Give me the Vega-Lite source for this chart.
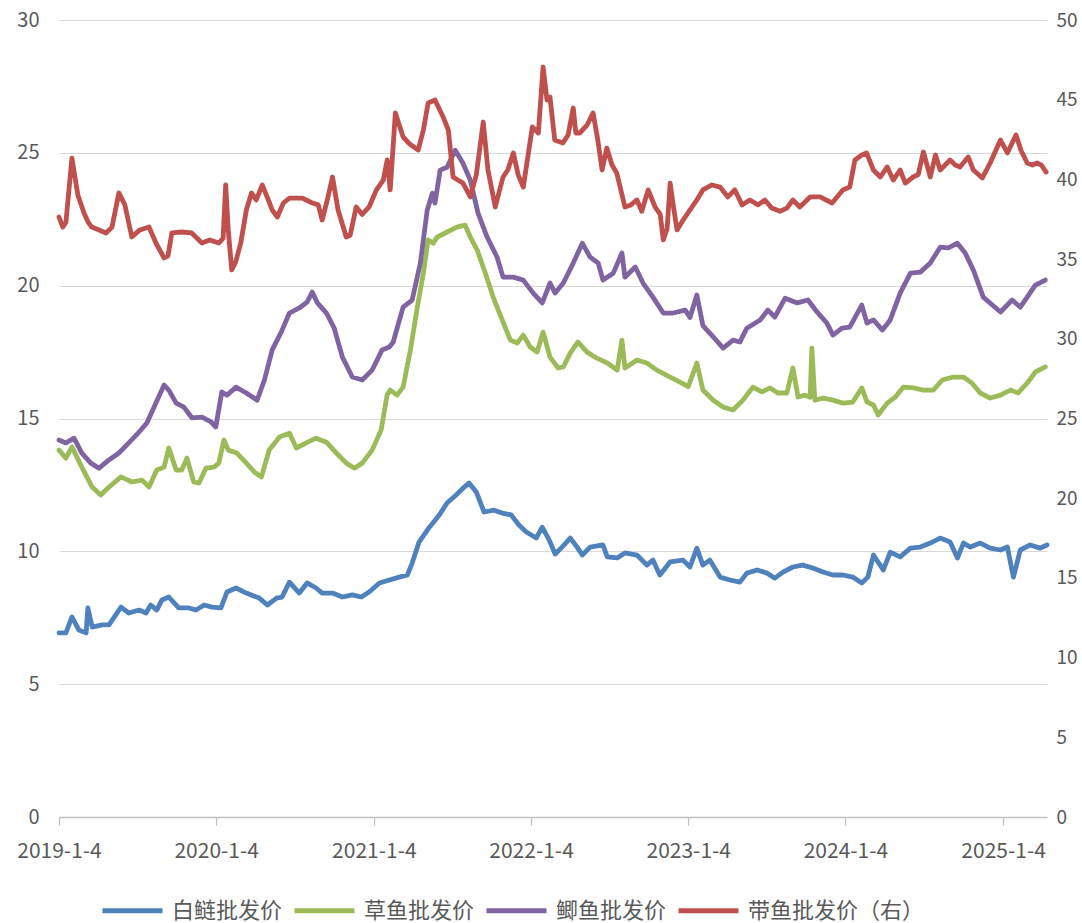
{
  "$schema": "https://vega.github.io/schema/vega-lite/v6.json",
  "width": 988,
  "height": 797,
  "autosize": {"type": "none"},
  "padding": {"left": 59, "top": 20, "right": 35, "bottom": 106},
  "background": "white",
  "config": {
    "view": {"stroke": null},
    "font": "Noto Sans CJK SC",
    "axis": {"labelFont": "Noto Sans CJK SC", "labelFontSize": 20, "labelColor": "#595959", "title": null, "gridColor": "#D9D9D9", "gridWidth": 1.2},
    "line": {"strokeWidth": 4.8, "strokeJoin": "round", "strokeCap": "round"}
  },
  "datasets": {
    "blue": [
      {"d":"2019-01-04","v":6.93},{"d":"2019-01-20","v":6.93},{"d":"2019-02-03","v":7.53},{"d":"2019-02-19","v":7.04},{"d":"2019-03-08","v":6.93},{"d":"2019-03-12","v":7.87},{"d":"2019-03-22","v":7.15},{"d":"2019-04-14","v":7.23},{"d":"2019-04-30","v":7.23},{"d":"2019-05-28","v":7.90},{"d":"2019-06-15","v":7.68},{"d":"2019-07-09","v":7.79},{"d":"2019-07-25","v":7.68},{"d":"2019-08-05","v":7.98},{"d":"2019-08-19","v":7.79},{"d":"2019-08-31","v":8.17},{"d":"2019-09-16","v":8.28},{"d":"2019-10-09","v":7.87},{"d":"2019-11-02","v":7.87},{"d":"2019-11-18","v":7.79},{"d":"2019-12-07","v":7.98},{"d":"2019-12-25","v":7.90},
      {"d":"2020-01-15","v":7.87},{"d":"2020-01-29","v":8.47},{"d":"2020-02-19","v":8.62},{"d":"2020-03-14","v":8.43},{"d":"2020-04-13","v":8.24},{"d":"2020-05-02","v":7.98},{"d":"2020-05-23","v":8.24},{"d":"2020-06-05","v":8.28},{"d":"2020-06-22","v":8.84},{"d":"2020-07-15","v":8.43},{"d":"2020-08-02","v":8.81},{"d":"2020-08-23","v":8.62},{"d":"2020-09-06","v":8.43},{"d":"2020-09-30","v":8.43},{"d":"2020-10-23","v":8.28},{"d":"2020-11-15","v":8.36},{"d":"2020-12-06","v":8.28},{"d":"2020-12-24","v":8.47},
      {"d":"2021-01-17","v":8.81},{"d":"2021-02-09","v":8.92},{"d":"2021-03-04","v":9.03},{"d":"2021-03-23","v":9.11},{"d":"2021-04-03","v":9.56},{"d":"2021-04-19","v":10.35},{"d":"2021-05-13","v":10.91},{"d":"2021-06-05","v":11.37},{"d":"2021-06-23","v":11.82},{"d":"2021-07-14","v":12.12},{"d":"2021-08-02","v":12.42},{"d":"2021-08-13","v":12.57},{"d":"2021-08-30","v":12.23},{"d":"2021-09-17","v":11.48},{"d":"2021-10-10","v":11.55},{"d":"2021-10-29","v":11.44},{"d":"2021-11-19","v":11.37},{"d":"2021-12-07","v":10.99},{"d":"2021-12-24","v":10.73},
      {"d":"2022-01-16","v":10.50},{"d":"2022-01-30","v":10.91},{"d":"2022-02-15","v":10.43},{"d":"2022-03-01","v":9.90},{"d":"2022-03-17","v":10.16},{"d":"2022-04-05","v":10.50},{"d":"2022-04-21","v":10.16},{"d":"2022-05-03","v":9.86},{"d":"2022-05-21","v":10.16},{"d":"2022-06-20","v":10.24},{"d":"2022-06-30","v":9.79},{"d":"2022-07-23","v":9.75},{"d":"2022-08-10","v":9.94},{"d":"2022-09-07","v":9.86},{"d":"2022-09-30","v":9.48},{"d":"2022-10-14","v":9.67},{"d":"2022-10-30","v":9.11},{"d":"2022-11-23","v":9.60},{"d":"2022-12-23","v":9.67},
      {"d":"2023-01-08","v":9.41},{"d":"2023-01-24","v":10.12},{"d":"2023-02-07","v":9.48},{"d":"2023-02-23","v":9.67},{"d":"2023-03-19","v":9.03},{"d":"2023-04-11","v":8.92},{"d":"2023-05-04","v":8.84},{"d":"2023-05-20","v":9.18},{"d":"2023-06-13","v":9.30},{"d":"2023-07-06","v":9.18},{"d":"2023-07-24","v":8.99},{"d":"2023-08-12","v":9.22},{"d":"2023-09-04","v":9.41},{"d":"2023-09-27","v":9.48},{"d":"2023-10-20","v":9.37},{"d":"2023-11-13","v":9.22},{"d":"2023-12-06","v":9.11},{"d":"2023-12-29","v":9.11},
      {"d":"2024-01-21","v":9.03},{"d":"2024-02-11","v":8.81},{"d":"2024-02-25","v":9.03},{"d":"2024-03-09","v":9.86},{"d":"2024-04-01","v":9.30},{"d":"2024-04-17","v":9.97},{"d":"2024-05-10","v":9.79},{"d":"2024-06-03","v":10.12},{"d":"2024-06-26","v":10.16},{"d":"2024-07-19","v":10.31},{"d":"2024-08-11","v":10.50},{"d":"2024-09-03","v":10.35},{"d":"2024-09-20","v":9.75},{"d":"2024-10-04","v":10.31},{"d":"2024-10-20","v":10.16},{"d":"2024-11-12","v":10.31},{"d":"2024-12-05","v":10.12},{"d":"2024-12-29","v":10.05},
      {"d":"2025-01-14","v":10.16},{"d":"2025-01-28","v":9.03},{"d":"2025-02-13","v":10.05},{"d":"2025-03-08","v":10.24},{"d":"2025-03-31","v":10.12},{"d":"2025-04-16","v":10.24}
    ],
    "green": [
      {"d":"2019-01-04","v":13.81},{"d":"2019-01-20","v":13.51},{"d":"2019-02-03","v":13.93},{"d":"2019-02-26","v":13.17},{"d":"2019-03-22","v":12.42},{"d":"2019-04-11","v":12.12},{"d":"2019-04-30","v":12.42},{"d":"2019-05-28","v":12.80},{"d":"2019-06-22","v":12.61},{"d":"2019-07-16","v":12.68},{"d":"2019-08-01","v":12.42},{"d":"2019-08-19","v":13.06},{"d":"2019-09-05","v":13.17},{"d":"2019-09-16","v":13.89},{"d":"2019-10-03","v":13.06},{"d":"2019-10-16","v":13.06},{"d":"2019-10-28","v":13.51},{"d":"2019-11-13","v":12.61},{"d":"2019-11-25","v":12.57},{"d":"2019-12-11","v":13.13},{"d":"2019-12-30","v":13.17},
      {"d":"2020-01-10","v":13.32},{"d":"2020-01-22","v":14.19},{"d":"2020-02-01","v":13.81},{"d":"2020-02-21","v":13.70},{"d":"2020-03-14","v":13.32},{"d":"2020-04-02","v":12.98},{"d":"2020-04-18","v":12.80},{"d":"2020-05-06","v":13.81},{"d":"2020-05-30","v":14.30},{"d":"2020-06-22","v":14.45},{"d":"2020-07-08","v":13.89},{"d":"2020-07-31","v":14.08},{"d":"2020-08-23","v":14.26},{"d":"2020-09-16","v":14.11},{"d":"2020-10-09","v":13.70},{"d":"2020-11-01","v":13.32},{"d":"2020-11-20","v":13.13},{"d":"2020-12-08","v":13.32},{"d":"2020-12-31","v":13.81},
      {"d":"2021-01-21","v":14.57},{"d":"2021-02-04","v":15.90},{"d":"2021-02-11","v":16.07},{"d":"2021-02-27","v":15.88},{"d":"2021-03-13","v":16.18},{"d":"2021-03-30","v":17.58},{"d":"2021-04-15","v":19.19},{"d":"2021-04-29","v":20.47},{"d":"2021-05-10","v":21.72},{"d":"2021-05-22","v":21.60},{"d":"2021-05-31","v":21.83},{"d":"2021-06-23","v":22.02},{"d":"2021-07-17","v":22.21},{"d":"2021-08-04","v":22.28},{"d":"2021-08-16","v":21.83},{"d":"2021-09-01","v":21.34},{"d":"2021-09-20","v":20.47},{"d":"2021-10-08","v":19.57},{"d":"2021-10-29","v":18.71},{"d":"2021-11-17","v":17.95},{"d":"2021-12-03","v":17.84},{"d":"2021-12-17","v":18.14},
      {"d":"2022-01-02","v":17.69},{"d":"2022-01-18","v":17.50},{"d":"2022-02-01","v":18.25},{"d":"2022-02-17","v":17.31},{"d":"2022-03-08","v":16.90},{"d":"2022-03-20","v":16.94},{"d":"2022-04-05","v":17.46},{"d":"2022-04-23","v":17.88},{"d":"2022-05-14","v":17.50},{"d":"2022-06-06","v":17.27},{"d":"2022-06-30","v":17.09},{"d":"2022-07-23","v":16.82},{"d":"2022-08-03","v":17.95},{"d":"2022-08-10","v":16.90},{"d":"2022-09-07","v":17.20},{"d":"2022-09-30","v":17.09},{"d":"2022-10-23","v":16.82},{"d":"2022-11-23","v":16.56},{"d":"2022-12-16","v":16.37},
      {"d":"2023-01-04","v":16.20},{"d":"2023-01-24","v":17.09},{"d":"2023-02-07","v":16.07},{"d":"2023-03-03","v":15.69},{"d":"2023-03-26","v":15.43},{"d":"2023-04-18","v":15.32},{"d":"2023-05-11","v":15.69},{"d":"2023-06-03","v":16.18},{"d":"2023-06-24","v":16.00},{"d":"2023-07-13","v":16.15},{"d":"2023-07-31","v":15.96},{"d":"2023-08-21","v":15.96},{"d":"2023-09-04","v":16.90},{"d":"2023-09-16","v":15.81},{"d":"2023-10-02","v":15.88},{"d":"2023-10-14","v":15.80},{"d":"2023-10-18","v":17.65},{"d":"2023-10-25","v":15.69},{"d":"2023-11-13","v":15.77},{"d":"2023-12-06","v":15.69},{"d":"2023-12-29","v":15.58},
      {"d":"2024-01-21","v":15.62},{"d":"2024-02-11","v":16.15},{"d":"2024-02-23","v":15.62},{"d":"2024-03-09","v":15.51},{"d":"2024-03-20","v":15.13},{"d":"2024-04-10","v":15.58},{"d":"2024-04-29","v":15.81},{"d":"2024-05-17","v":16.18},{"d":"2024-06-10","v":16.15},{"d":"2024-07-03","v":16.07},{"d":"2024-07-26","v":16.07},{"d":"2024-08-16","v":16.45},{"d":"2024-09-10","v":16.56},{"d":"2024-10-04","v":16.56},{"d":"2024-10-24","v":16.33},{"d":"2024-11-12","v":15.96},{"d":"2024-12-05","v":15.77},{"d":"2024-12-29","v":15.88},
      {"d":"2025-01-21","v":16.07},{"d":"2025-02-08","v":15.96},{"d":"2025-03-01","v":16.33},{"d":"2025-03-20","v":16.75},{"d":"2025-04-12","v":16.94}
    ],
    "purple": [
      {"d":"2019-01-04","v":14.19},{"d":"2019-01-20","v":14.08},{"d":"2019-02-08","v":14.26},{"d":"2019-02-26","v":13.70},{"d":"2019-03-19","v":13.32},{"d":"2019-04-07","v":13.13},{"d":"2019-04-30","v":13.44},{"d":"2019-05-23","v":13.70},{"d":"2019-06-15","v":14.08},{"d":"2019-07-09","v":14.49},{"d":"2019-07-27","v":14.83},{"d":"2019-08-17","v":15.58},{"d":"2019-09-05","v":16.26},{"d":"2019-09-16","v":16.07},{"d":"2019-10-03","v":15.58},{"d":"2019-10-21","v":15.43},{"d":"2019-11-09","v":15.02},{"d":"2019-12-02","v":15.05},{"d":"2019-12-23","v":14.87},
      {"d":"2020-01-03","v":14.68},{"d":"2020-01-17","v":16.00},{"d":"2020-01-29","v":15.88},{"d":"2020-02-19","v":16.18},{"d":"2020-03-14","v":15.96},{"d":"2020-04-08","v":15.69},{"d":"2020-04-25","v":16.45},{"d":"2020-05-13","v":17.58},{"d":"2020-06-03","v":18.25},{"d":"2020-06-22","v":18.97},{"d":"2020-07-15","v":19.16},{"d":"2020-08-02","v":19.38},{"d":"2020-08-14","v":19.76},{"d":"2020-08-26","v":19.35},{"d":"2020-09-16","v":18.97},{"d":"2020-10-04","v":18.40},{"d":"2020-10-23","v":17.31},{"d":"2020-11-15","v":16.56},{"d":"2020-12-08","v":16.45},{"d":"2020-12-31","v":16.82},
      {"d":"2021-01-23","v":17.58},{"d":"2021-02-09","v":17.69},{"d":"2021-02-18","v":17.88},{"d":"2021-03-13","v":19.19},{"d":"2021-04-03","v":19.46},{"d":"2021-04-22","v":20.85},{"d":"2021-05-08","v":22.85},{"d":"2021-05-20","v":23.48},{"d":"2021-05-26","v":23.11},{"d":"2021-06-07","v":24.35},{"d":"2021-06-23","v":24.46},{"d":"2021-07-12","v":25.10},{"d":"2021-07-30","v":24.61},{"d":"2021-08-16","v":23.97},{"d":"2021-09-03","v":22.73},{"d":"2021-09-24","v":21.83},{"d":"2021-10-17","v":21.08},{"d":"2021-10-31","v":20.32},{"d":"2021-11-24","v":20.32},{"d":"2021-12-17","v":20.21},
      {"d":"2022-01-09","v":19.72},{"d":"2022-01-30","v":19.35},{"d":"2022-02-17","v":20.10},{"d":"2022-03-01","v":19.72},{"d":"2022-03-20","v":20.10},{"d":"2022-04-12","v":20.85},{"d":"2022-05-03","v":21.60},{"d":"2022-05-21","v":21.08},{"d":"2022-06-09","v":20.85},{"d":"2022-06-20","v":20.21},{"d":"2022-07-14","v":20.47},{"d":"2022-08-03","v":21.23},{"d":"2022-08-10","v":20.32},{"d":"2022-09-03","v":20.70},{"d":"2022-09-21","v":20.10},{"d":"2022-10-14","v":19.57},{"d":"2022-11-07","v":18.97},{"d":"2022-11-30","v":18.97},{"d":"2022-12-28","v":19.08},
      {"d":"2023-01-08","v":18.80},{"d":"2023-01-24","v":19.65},{"d":"2023-02-07","v":18.50},{"d":"2023-03-03","v":18.07},{"d":"2023-03-26","v":17.65},{"d":"2023-04-18","v":17.95},{"d":"2023-05-04","v":17.88},{"d":"2023-05-20","v":18.40},{"d":"2023-06-20","v":18.71},{"d":"2023-07-08","v":19.08},{"d":"2023-07-24","v":18.82},{"d":"2023-08-17","v":19.53},{"d":"2023-09-14","v":19.35},{"d":"2023-10-09","v":19.46},{"d":"2023-10-30","v":19.01},{"d":"2023-11-22","v":18.59},{"d":"2023-12-06","v":18.14},{"d":"2023-12-27","v":18.40},
      {"d":"2024-01-14","v":18.44},{"d":"2024-02-11","v":19.27},{"d":"2024-02-23","v":18.59},{"d":"2024-03-09","v":18.71},{"d":"2024-03-30","v":18.33},{"d":"2024-04-17","v":18.71},{"d":"2024-05-10","v":19.72},{"d":"2024-06-03","v":20.47},{"d":"2024-06-26","v":20.51},{"d":"2024-07-19","v":20.85},{"d":"2024-08-11","v":21.45},{"d":"2024-08-30","v":21.42},{"d":"2024-09-20","v":21.60},{"d":"2024-10-08","v":21.23},{"d":"2024-10-27","v":20.59},{"d":"2024-11-19","v":19.57},{"d":"2024-12-10","v":19.27},{"d":"2024-12-29","v":19.01},
      {"d":"2025-01-25","v":19.46},{"d":"2025-02-13","v":19.19},{"d":"2025-03-01","v":19.57},{"d":"2025-03-20","v":20.02},{"d":"2025-04-12","v":20.21}
    ],
    "red": [
      {"d":"2019-01-04","v":37.64},{"d":"2019-01-13","v":37.01},{"d":"2019-01-20","v":37.3},{"d":"2019-02-03","v":41.34},{"d":"2019-02-17","v":39.0},{"d":"2019-03-03","v":37.89},{"d":"2019-03-13","v":37.3},{"d":"2019-03-21","v":37.01},{"d":"2019-04-07","v":36.83},{"d":"2019-04-23","v":36.64},{"d":"2019-05-07","v":37.0},{"d":"2019-05-23","v":39.15},{"d":"2019-06-06","v":38.4},{"d":"2019-06-22","v":36.39},{"d":"2019-07-11","v":36.83},{"d":"2019-08-01","v":37.01},{"d":"2019-08-17","v":36.01},{"d":"2019-09-05","v":35.07},{"d":"2019-09-14","v":35.2},{"d":"2019-09-23","v":36.64},{"d":"2019-10-16","v":36.7},{"d":"2019-11-08","v":36.64},{"d":"2019-12-02","v":36.01},{"d":"2019-12-20","v":36.2},
      {"d":"2020-01-10","v":36.01},{"d":"2020-01-20","v":36.3},{"d":"2020-01-26","v":39.65},{"d":"2020-02-01","v":36.83},{"d":"2020-02-09","v":34.32},{"d":"2020-02-18","v":34.8},{"d":"2020-03-01","v":36.01},{"d":"2020-03-14","v":38.08},{"d":"2020-03-26","v":39.15},{"d":"2020-04-06","v":38.71},{"d":"2020-04-20","v":39.65},{"d":"2020-05-04","v":38.71},{"d":"2020-05-13","v":38.08},{"d":"2020-05-25","v":37.64},{"d":"2020-06-08","v":38.52},{"d":"2020-06-22","v":38.83},{"d":"2020-07-08","v":38.83},{"d":"2020-07-22","v":38.83},{"d":"2020-08-14","v":38.52},{"d":"2020-08-28","v":38.4},{"d":"2020-09-06","v":37.45},{"d":"2020-09-18","v":38.71},{"d":"2020-09-30","v":40.15},{"d":"2020-10-13","v":38.08},{"d":"2020-11-01","v":36.39},{"d":"2020-11-10","v":36.5},{"d":"2020-11-24","v":38.27},{"d":"2020-12-08","v":37.8},{"d":"2020-12-24","v":38.27},
      {"d":"2021-01-10","v":39.34},{"d":"2021-01-26","v":39.96},{"d":"2021-02-04","v":41.22},{"d":"2021-02-11","v":39.34},{"d":"2021-02-23","v":44.17},{"d":"2021-03-13","v":42.66},{"d":"2021-03-29","v":42.2},{"d":"2021-04-17","v":41.84},{"d":"2021-04-29","v":43.10},{"d":"2021-05-10","v":44.79},{"d":"2021-05-26","v":44.98},{"d":"2021-06-14","v":43.91},{"d":"2021-06-26","v":43.10},{"d":"2021-07-07","v":40.15},{"d":"2021-07-18","v":39.96},{"d":"2021-07-30","v":39.77},{"d":"2021-08-16","v":38.90},{"d":"2021-08-30","v":40.3},{"d":"2021-09-15","v":43.60},{"d":"2021-09-26","v":40.59},{"d":"2021-10-13","v":38.27},{"d":"2021-10-31","v":40.15},{"d":"2021-11-11","v":40.59},{"d":"2021-11-24","v":41.66},{"d":"2021-12-05","v":40.3},{"d":"2021-12-17","v":39.52},
      {"d":"2022-01-07","v":43.29},{"d":"2022-01-21","v":42.91},{"d":"2022-02-01","v":47.05},{"d":"2022-02-10","v":44.98},{"d":"2022-02-17","v":45.17},{"d":"2022-02-28","v":42.47},{"d":"2022-03-19","v":42.28},{"d":"2022-03-31","v":42.79},{"d":"2022-04-12","v":44.48},{"d":"2022-04-18","v":42.91},{"d":"2022-04-27","v":42.91},{"d":"2022-05-14","v":43.4},{"d":"2022-05-28","v":44.17},{"d":"2022-06-08","v":42.47},{"d":"2022-06-18","v":40.59},{"d":"2022-06-29","v":41.97},{"d":"2022-07-11","v":40.9},{"d":"2022-07-22","v":40.40},{"d":"2022-08-10","v":38.27},{"d":"2022-08-24","v":38.4},{"d":"2022-09-07","v":38.71},{"d":"2022-09-18","v":38.0},{"d":"2022-10-03","v":39.34},{"d":"2022-10-19","v":38.27},{"d":"2022-10-31","v":37.8},{"d":"2022-11-07","v":36.20},{"d":"2022-11-16","v":36.9},{"d":"2022-11-23","v":39.77},{"d":"2022-11-30","v":38.4},{"d":"2022-12-09","v":36.83},{"d":"2022-12-23","v":37.45},
      {"d":"2023-01-08","v":38.08},{"d":"2023-01-24","v":38.71},{"d":"2023-02-07","v":39.34},{"d":"2023-02-28","v":39.65},{"d":"2023-03-19","v":39.52},{"d":"2023-04-06","v":38.90},{"d":"2023-04-22","v":39.34},{"d":"2023-05-09","v":38.4},{"d":"2023-05-27","v":38.71},{"d":"2023-06-15","v":38.4},{"d":"2023-07-01","v":38.71},{"d":"2023-07-17","v":38.2},{"d":"2023-08-05","v":38.0},{"d":"2023-08-21","v":38.2},{"d":"2023-09-04","v":38.71},{"d":"2023-09-20","v":38.27},{"d":"2023-10-14","v":38.90},{"d":"2023-11-06","v":38.90},{"d":"2023-12-04","v":38.52},{"d":"2023-12-29","v":39.34},
      {"d":"2024-01-14","v":39.52},{"d":"2024-01-26","v":41.22},{"d":"2024-02-11","v":41.53},{"d":"2024-02-22","v":41.66},{"d":"2024-03-09","v":40.59},{"d":"2024-03-25","v":40.15},{"d":"2024-04-10","v":40.78},{"d":"2024-04-24","v":39.96},{"d":"2024-05-10","v":40.59},{"d":"2024-05-22","v":39.77},{"d":"2024-06-09","v":40.15},{"d":"2024-06-21","v":40.3},{"d":"2024-07-03","v":41.72},{"d":"2024-07-19","v":40.15},{"d":"2024-07-31","v":41.53},{"d":"2024-08-11","v":40.59},{"d":"2024-09-03","v":41.22},{"d":"2024-09-15","v":40.9},{"d":"2024-09-26","v":40.78},{"d":"2024-10-15","v":41.41},{"d":"2024-10-27","v":40.59},{"d":"2024-11-17","v":40.09},{"d":"2024-12-05","v":41.03},{"d":"2024-12-29","v":42.47},
      {"d":"2025-01-14","v":41.66},{"d":"2025-02-03","v":42.79},{"d":"2025-02-15","v":41.8},{"d":"2025-03-01","v":41.03},{"d":"2025-03-13","v":40.9},{"d":"2025-03-24","v":41.03},{"d":"2025-04-03","v":40.9},{"d":"2025-04-14","v":40.46}
    ]
  },
  "encoding": {
    "x": {
      "field": "d", "type": "temporal",
      "scale": {"type": "utc", "domain": [{"year": 2019, "month": 1, "date": 4, "utc": true}, {"year": 2025, "month": 4, "date": 16, "utc": true}]},
      "axis": {
        "values": [{"year": 2019, "month": 1, "date": 4, "utc": true}, {"year": 2020, "month": 1, "date": 4, "utc": true}, {"year": 2021, "month": 1, "date": 4, "utc": true}, {"year": 2022, "month": 1, "date": 4, "utc": true}, {"year": 2023, "month": 1, "date": 4, "utc": true}, {"year": 2024, "month": 1, "date": 4, "utc": true}, {"year": 2025, "month": 1, "date": 4, "utc": true}],
        "labelExpr": "utcFormat(datum.value, '%Y-%-m-%-d')",
        "labelFontSize": 21,
        "grid": false, "domain": true, "domainColor": "#BFBFBF", "domainWidth": 1.5,
        "ticks": true, "tickColor": "#BFBFBF", "tickSize": 8, "tickWidth": 1.2,
        "labelPadding": 15, "labelFlush": false, "labelOverlap": false
      }
    }
  },
  "layer": [
    {
      "encoding": {
        "y": {
          "field": "v", "type": "quantitative",
          "scale": {"domain": [0, 30], "nice": false, "zero": true},
          "axis": {"orient": "left", "values": [0, 5, 10, 15, 20, 25, 30], "grid": true, "domain": false, "ticks": false, "tickSize": 0, "labelPadding": 20}
        }
      },
      "layer": [
        {
          "data": {"name": "blue"},
          "mark": {"type": "line"},
          "encoding": {
            "color": {
              "datum": "白鲢批发价", "type": "nominal",
              "scale": {"domain": ["白鲢批发价", "草鱼批发价", "鲫鱼批发价", "带鱼批发价（右）"], "range": ["#4F81BD", "#9BBB59", "#8064A2", "#C0504D"]},
              "legend": {
                "orient": "none", "legendX": 41, "legendY": 858, "direction": "horizontal", "columns": 4,
                "title": null, "symbolType": "stroke", "symbolSize": 3600, "symbolStrokeWidth": 5,
                "labelFont": "Noto Sans CJK SC", "labelFontSize": 22, "labelColor": "#595959", "labelLimit": 400,
                "labelOffset": 7, "columnPadding": 9, "padding": 0, "offset": 0
              }
            }
          }
        },
        {
          "data": {"name": "green"},
          "mark": {"type": "line"},
          "encoding": {"color": {"datum": "草鱼批发价", "type": "nominal"}}
        },
        {
          "data": {"name": "purple"},
          "mark": {"type": "line"},
          "encoding": {"color": {"datum": "鲫鱼批发价", "type": "nominal"}}
        }
      ]
    },
    {
      "data": {"name": "red"},
      "mark": {"type": "line"},
      "encoding": {
        "y": {
          "field": "v", "type": "quantitative",
          "scale": {"domain": [0, 50], "nice": false, "zero": true},
          "axis": {"orient": "right", "values": [0, 5, 10, 15, 20, 25, 30, 35, 40, 45, 50], "grid": false, "domain": false, "ticks": false, "tickSize": 0, "labelPadding": 9, "labelFontSize": 19}
        },
        "color": {"datum": "带鱼批发价（右）", "type": "nominal"}
      }
    }
  ],
  "resolve": {"scale": {"y": "independent"}}
}
